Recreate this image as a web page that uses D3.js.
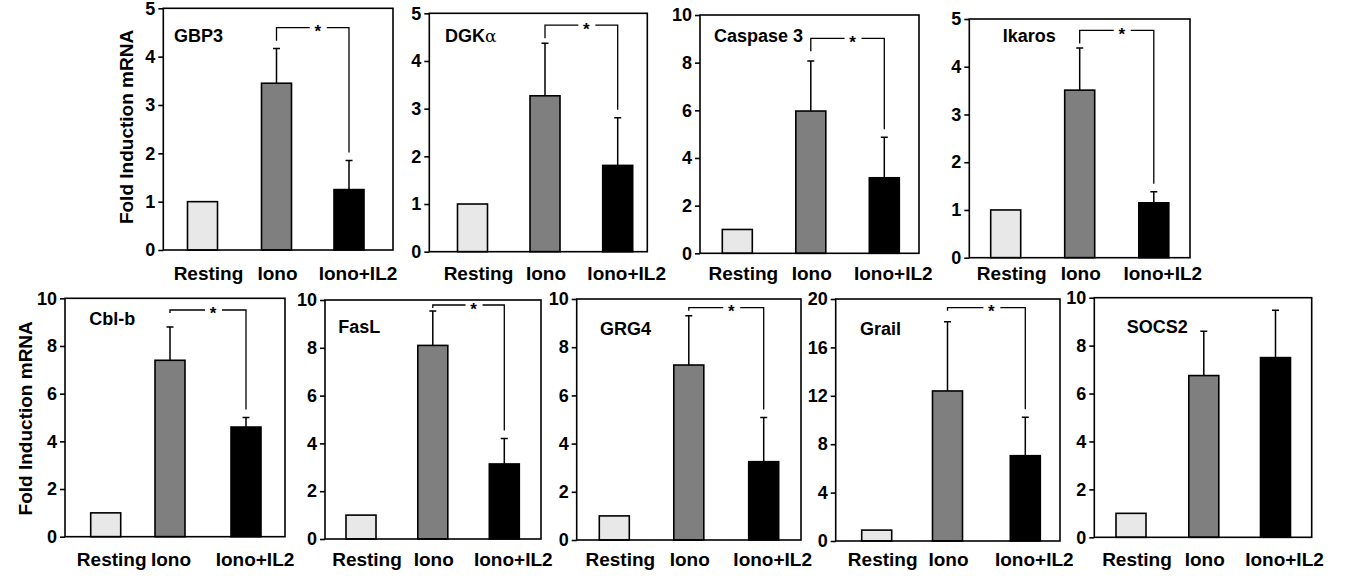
<!DOCTYPE html>
<html>
<head>
<meta charset="utf-8">
<script src="https://cdn.jsdelivr.net/npm/d3@7"></script>
<style>
  body { margin: 0; background: #fff; }
  text { font-family: "Liberation Sans", Arial, sans-serif; font-weight: bold; fill: #000; }
</style>
</head>
<body>
<div id="chart"></div>
<script>
// 1: DATA
const genes = ["GBP3", "DGK", "Caspase 3", "Ikaros", "Cbl-b", "FasL", "GRG4", "Grail", "SOCS2"];
const categories = ["Resting", "Iono", "Iono+IL2"];
const resting = [1, 1, 1, 1, 1, 1, 1, 0.9, 1];
const iono = [3.45, 3.27, 5.97, 3.51, 7.4, 8.1, 7.26, 12.4, 6.75];
const ionoSD = [0.72, 1.10, 2.10, 0.88, 1.40, 1.44, 2.05, 5.73, 1.85];
const ionoIL2 = [1.25, 1.81, 3.17, 1.15, 4.6, 3.14, 3.25, 7.05, 7.5];
const ionoIL2SD = [0.60, 1.00, 1.70, 0.23, 0.40, 1.07, 1.83, 3.17, 1.98];
const yMax = [5, 5, 10, 5, 10, 10, 10, 20, 10];
const yTickStep = [1, 1, 2, 1, 2, 2, 2, 4, 2];
// level of the significance bracket (null = no bracket)
const bracketLevel = [4.6, 4.75, 9.02, 4.76, 9.51, 9.79, 9.64, 19.28, null];

// 2: LAYOUT
const panels = [
  { x0: 163.3, x1: 393, y0: 8.3, y1: 250, slots: [39.2, 113.2, 185.7], name: [10.7, 33.4], row: 0 },
  { x0: 429.3, x1: 647.3, y0: 13.3, y1: 251.7, slots: [43.2, 115.7, 188.4], name: [15.7, 28.4], row: 0 },
  { x0: 700, x1: 919, y0: 15, y1: 253.3, slots: [37.3, 110.8, 184.3], name: [14, 26.7], row: 0 },
  { x0: 969.3, x1: 1190, y0: 19, y1: 257.7, slots: [36.4, 110.4, 184.5], name: [33.4, 22.7], row: 0 },
  { x0: 65, x1: 285, y0: 298.3, y1: 536.7, slots: [40.7, 105, 181], name: [24.3, 26.7], row: 1 },
  { x0: 325, x1: 541, y0: 300, y1: 539, slots: [36, 107.8, 179.3], name: [13.3, 33.3], row: 1 },
  { x0: 576.7, x1: 801, y0: 299, y1: 540, slots: [37.6, 112.1, 187], name: [23.3, 36], row: 1 },
  { x0: 835.7, x1: 1060, y0: 299, y1: 541, slots: [41, 111.8, 189.6], name: [24.3, 36], row: 1 },
  { x0: 1094.3, x1: 1311.7, y0: 297.7, y1: 537.3, slots: [36.7, 109.5, 181.2], name: [32.4, 35.6], row: 1 }
];
const rows = [
  { labelY: 280, hook: 13, titleX: 133, titleY: 127 },
  { labelY: 566, hook: 3, titleX: 31.7, titleY: 418.3 }
];
const fills = ["#e8e8e8", "#7f7f7f", "#000000"];
const labelShift = [6, 1, 9];
const barWidth = 30;

const svg = d3.select("#chart")
  .append("svg")
  .attr("width", 1349)
  .attr("height", 576);

// Y axis titles, one per row
rows.forEach(r => {
  svg.append("text")
    .attr("transform", `translate(${r.titleX},${r.titleY}) rotate(-90)`)
    .attr("text-anchor", "middle")
    .style("font-size", "19px")
    .text("Fold Induction mRNA");
});

panels.forEach((p, i) => {
  const row = rows[p.row];
  const g = svg.append("g").attr("transform", `translate(${p.x0},0)`);
  const w = p.x1 - p.x0;

  const y = d3.scaleLinear().domain([0, yMax[i]]).range([p.y1, p.y0]);
  const x = d3.scaleOrdinal().domain(categories).range(p.slots);

  const values = [resting[i], iono[i], ionoIL2[i]];
  const sds = [null, ionoSD[i], ionoIL2SD[i]];
  const data = categories.map((c, k) => ({ cat: c, v: values[k], sd: sds[k], fill: fills[k] }));

  // bars
  g.selectAll(".bar")
    .data(data)
    .enter().append("rect")
    .attr("class", "bar")
    .attr("x", d => x(d.cat) - barWidth / 2)
    .attr("y", d => y(d.v))
    .attr("width", barWidth)
    .attr("height", d => y(0) - y(d.v))
    .attr("fill", d => d.fill)
    .attr("stroke", "#000")
    .attr("stroke-width", 1.6);

  // upper error bars
  const err = data.filter(d => d.sd != null);
  g.selectAll(".err")
    .data(err)
    .enter().append("path")
    .attr("class", "err")
    .attr("fill", "none")
    .attr("stroke", "#000")
    .attr("stroke-width", 1.5)
    .attr("d", d => {
      const cx = x(d.cat), top = y(d.v + d.sd);
      return `M${cx},${y(d.v)}V${top}M${cx - 3.5},${top}H${cx + 3.5}`;
    });

  // frame + axis
  g.append("rect")
    .attr("x", 0).attr("y", p.y0)
    .attr("width", w).attr("height", p.y1 - p.y0)
    .attr("fill", "none")
    .attr("stroke", "#000")
    .attr("stroke-width", 1.6);

  const axis = g.append("g")
    .call(d3.axisLeft(y)
      .tickValues(d3.range(0, yMax[i] + yTickStep[i] / 2, yTickStep[i]))
      .tickSize(5)
      .tickSizeOuter(0)
      .tickPadding(3)
      .tickFormat(d3.format("d")));
  axis.select(".domain").remove();
  axis.selectAll("line").attr("stroke-width", 1.6);
  axis.selectAll("text")
    .attr("font-family", null)
    .style("font-size", "18px");
  axis.attr("font-family", null).attr("font-size", null);

  // gene name
  const name = g.append("text")
    .attr("x", p.name[0])
    .attr("y", p.y0 + p.name[1])
    .style("font-size", "18px")
    .text(genes[i]);
  if (genes[i] === "DGK") {
    name.append("tspan")
      .style("font-weight", "normal")
      .style("font-family", "'DejaVu Serif', serif")
      .style("font-size", "17px")
      .text("α");
  }

  // category labels
  g.selectAll(".cat")
    .data(categories)
    .enter().append("text")
    .attr("class", "cat")
    .attr("x", (c, k) => x(c) + labelShift[k])
    .attr("y", row.labelY)
    .attr("text-anchor", "middle")
    .style("font-size", "19px")
    .text(c => c);

  // significance bracket
  if (bracketLevel[i] != null) {
    const by = y(bracketLevel[i]);
    const lx = x("Iono"), rx = x("Iono+IL2");
    const rEnd = y(ionoIL2[i] + ionoIL2SD[i]) - 8;
    const sx = (lx + rx) / 2 + 5;
    g.append("path")
      .attr("fill", "none")
      .attr("stroke", "#000")
      .attr("stroke-width", 1.3)
      .attr("d", `M${lx},${by + row.hook}V${by}H${sx - 8}M${sx + 9},${by}H${rx}V${rEnd}`);
    g.append("text")
      .attr("x", sx)
      .attr("y", by + 9.5)
      .attr("text-anchor", "middle")
      .style("font-size", "17px")
      .text("*");
  }
});
</script>
</body>
</html>
